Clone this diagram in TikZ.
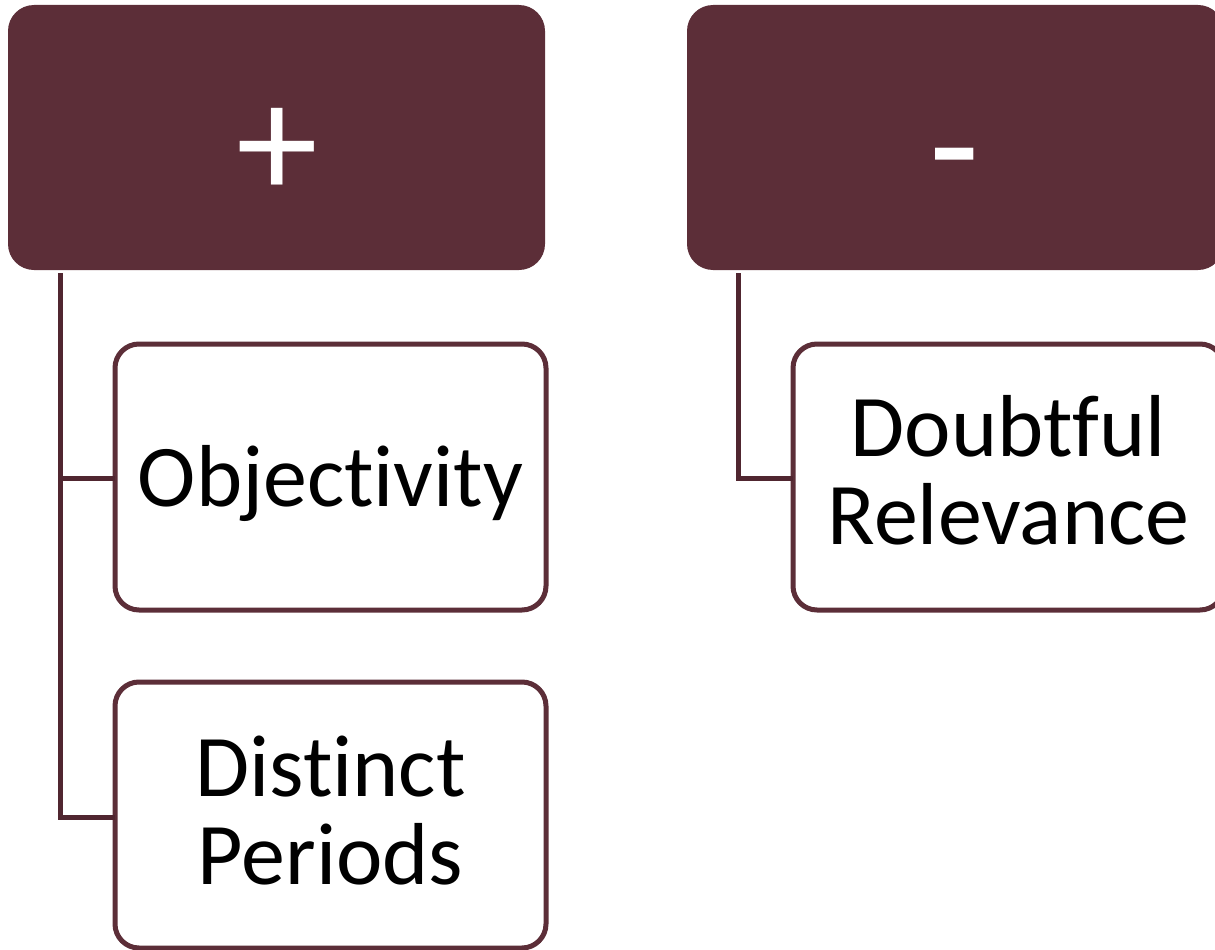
\documentclass[tikz,border=0pt]{standalone}
\usepackage{fontspec}
\setmainfont{Carlito}[RawFeature={-liga,-clig,-dlig}]
\definecolor{maroon}{RGB}{92,46,56}
\definecolor{linecol}{RGB}{80,38,48}
\begin{document}
\begin{tikzpicture}[x=1pt,y=-1pt,
  headbox/.style={draw=none, fill=maroon, rounded corners=26pt, minimum width=537pt, minimum height=265pt, inner sep=0pt, outer sep=0pt, anchor=north west},
  childbox/.style={draw=maroon, line width=5pt, fill=white, rounded corners=24pt, minimum width=431pt, minimum height=266pt, inner sep=0pt, outer sep=0pt, anchor=north west},
  headtxt/.style={text=white, font=\fontsize{164}{164}\selectfont, anchor=base, inner sep=0pt},
  childtxt/.style={text=black, font=\fontsize{88}{88}\selectfont, align=center, anchor=base, inner sep=0pt},
  conn/.style={draw=linecol, line width=5pt}]
\useasboundingbox (0,0) rectangle (1215,950);
% header boxes
\node[headbox] (plus) at (8,5) {};
\node[headbox] (minus) at (687,5) {};
\node[headtxt] (plust) at (277,198) {+};
\node[headtxt] (minust) at (955,200) {-};
% child boxes
\node[childbox] (obj) at (115,344) {};
\node[childbox] (dist) at (115,682) {};
\node[childbox] (doubt) at (793,344) {};
\node[childtxt] (objt) at ([yshift=-29pt]obj.center) {Objectivity};
\node[childtxt] (distt) at ([yshift=-69pt]dist.center) {Distinct\\Periods};
\node[childtxt] (doubtt) at ([yshift=-67pt]doubt.center) {Doubtful\\Relevance};
% connectors
\coordinate (pl) at ([xshift=52pt,yshift=-3pt]plus.south west);
\coordinate (ml) at ([xshift=51pt,yshift=-3pt]minus.south west);
\draw[conn] (pl) |- ([yshift=-1pt]obj.west);
\draw[conn] (pl) |- ([yshift=-2pt]dist.west);
\draw[conn] (ml) |- ([yshift=-1pt]doubt.west);
\end{tikzpicture}
\end{document}
